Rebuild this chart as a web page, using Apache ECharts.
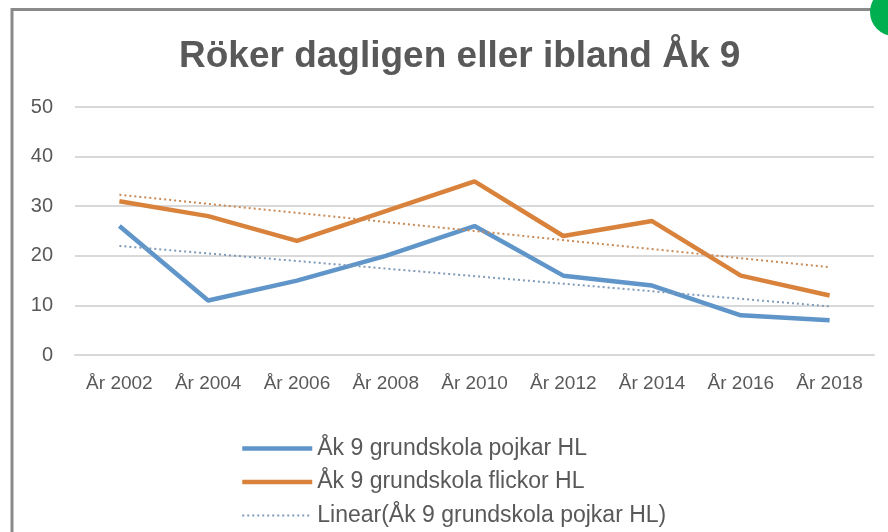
<!DOCTYPE html>
<html>
<head>
    <meta charset="utf-8">
    <script src="https://cdn.jsdelivr.net/npm/echarts@6/dist/echarts.min.js"></script>
    <style>
        html, body { margin: 0; padding: 0; background: #fff; }
    </style>
</head>
<body>
    <div id="chart" style="width: 888px;height:532px;"></div>
    <script>
        // values
        let years = ['År 2002', 'År 2004', 'År 2006', 'År 2008', 'År 2010', 'År 2012', 'År 2014', 'År 2016', 'År 2018'];
        let pojkar = [26, 11, 15, 20, 26, 16, 14, 8, 7];
        let flickor = [31, 28, 23, 29, 35, 24, 27, 16, 12];
        // trend line end points (first and last category)
        let pojkarTrend = [22, null, null, null, null, null, null, null, 9.8];
        let flickorTrend = [32.3, null, null, null, null, null, null, null, 17.7];

        let names = [
            'Åk 9 grundskola pojkar HL',
            'Åk 9 grundskola flickor HL',
            'Linear(Åk 9 grundskola pojkar HL)',
            'Linear(Åk 9 grundskola flickor HL)'
        ];

        let blue = '#5f95c8';
        let orange = '#d8823c';
        let grey = '#595959';

        myChart = echarts.init(document.getElementById('chart'));
        option = {
            backgroundColor: '#fff',
            animation: false,
            title: {
                text: 'Röker dagligen eller ibland Åk 9',
                left: 174,
                top: 33,
                textStyle: {
                    fontFamily: 'Liberation Sans',
                    fontSize: 37,
                    fontWeight: 'bold',
                    color: grey
                }
            },
            grid: {
                left: 75,
                right: 14,
                top: 107,
                bottom: 177
            },
            legend: {
                orient: 'vertical',
                left: 235,
                top: 432,
                height: 300,
                itemWidth: 70,
                itemHeight: 22,
                itemGap: 10.5,
                data: names,
                itemStyle: { color: 'rgba(0,0,0,0)', borderColor: 'rgba(0,0,0,0)', borderWidth: 0 },
                lineStyle: { width: 'inherit' },
                textStyle: {
                    fontFamily: 'Liberation Sans',
                    fontSize: 23,
                    color: grey
                }
            },
            xAxis: {
                type: 'category',
                data: years,
                axisLine: { lineStyle: { color: '#d9d9d9', width: 2 } },
                axisTick: { show: false },
                axisLabel: {
                    margin: 19,
                    fontFamily: 'Liberation Sans',
                    fontSize: 19,
                    color: grey
                }
            },
            yAxis: {
                type: 'value',
                min: 0,
                max: 50,
                interval: 10,
                axisLine: { show: false },
                axisTick: { show: false },
                splitLine: { lineStyle: { color: '#d9d9d9', width: 2 } },
                axisLabel: {
                    margin: 22,
                    fontFamily: 'Liberation Sans',
                    fontSize: 20,
                    color: grey
                }
            },
            series: [
                {
                    name: names[0], type: 'line', data: pojkar,
                    symbol: 'none', lineStyle: { color: blue, width: 4.5 }, itemStyle: { color: blue }
                },
                {
                    name: names[1], type: 'line', data: flickor,
                    symbol: 'none', lineStyle: { color: orange, width: 4.5 }, itemStyle: { color: orange }
                },
                {
                    name: names[2], type: 'line', data: pojkarTrend, connectNulls: true,
                    symbol: 'none', lineStyle: { color: '#7f9bb8', width: 2, type: [2, 3] }, itemStyle: { color: '#7f9bb8' }
                },
                {
                    name: names[3], type: 'line', data: flickorTrend, connectNulls: true,
                    symbol: 'none', lineStyle: { color: '#c98a55', width: 2, type: [2, 3] }, itemStyle: { color: '#c98a55' }
                }
            ],
            graphic: [
                {
                    type: 'rect',
                    shape: { x: 12, y: 9.5, width: 1000, height: 1000 },
                    style: { fill: null, stroke: '#8a8a8a', lineWidth: 3 },
                    silent: true
                },
                {
                    type: 'circle',
                    shape: { cx: 894, cy: 12, r: 24 },
                    style: { fill: '#00b050' },
                    silent: true
                }
            ]
        };
        myChart.setOption(option);
    </script>
</body>
</html>
